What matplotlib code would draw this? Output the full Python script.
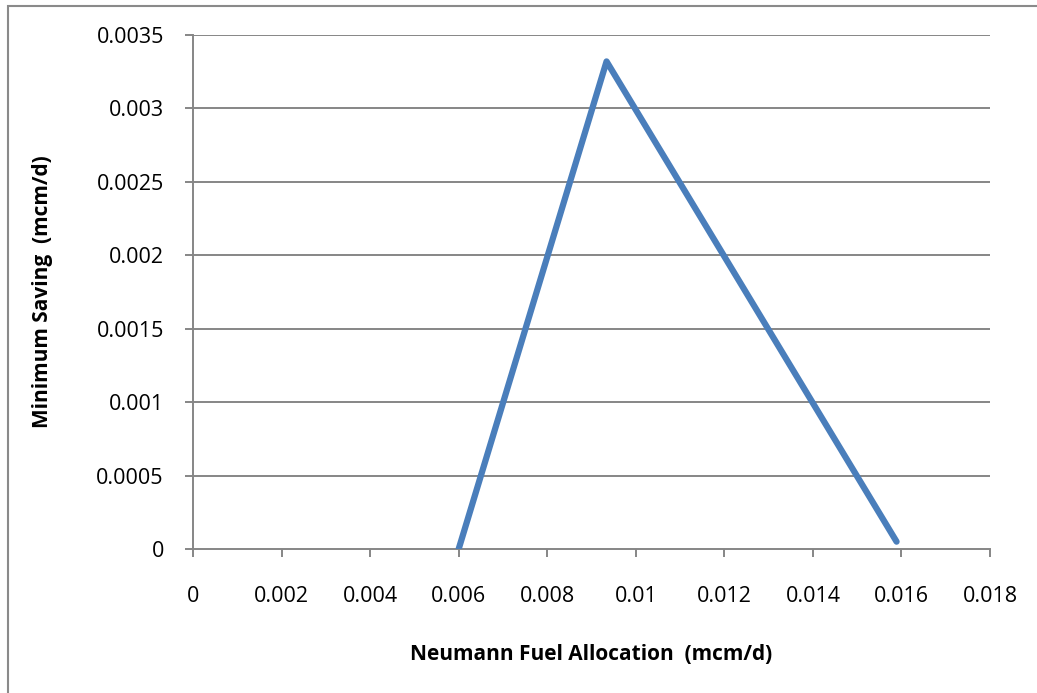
import matplotlib
matplotlib.use("Agg")
import matplotlib.pyplot as plt
from matplotlib.patches import Rectangle

x_vals = [0.006, 0.00934, 0.01589]
y_vals = [0.0, 0.00332, 0.00005]
x_ticks = [0, 0.002, 0.004, 0.006, 0.008, 0.01, 0.012, 0.014, 0.016, 0.018]
x_ticklabels = ["0", "0.002", "0.004", "0.006", "0.008", "0.01", "0.012", "0.014", "0.016", "0.018"]
y_ticks = [0, 0.0005, 0.001, 0.0015, 0.002, 0.0025, 0.003, 0.0035]
y_ticklabels = ["0", "0.0005", "0.001", "0.0015", "0.002", "0.0025", "0.003", "0.0035"]
x_label = "Neumann Fuel Allocation  (mcm/d)"
y_label = "Minimum Saving  (mcm/d)"

plt.rcParams['font.family'] = ['Open Sans', 'DejaVu Sans']
W, H = 1037, 693
fig = plt.figure(figsize=(W/100, H/100), dpi=100)
fig.patches.append(Rectangle((8/W, -0.05), 1.2, (H-6)/H + 0.05, transform=fig.transFigure,
                             fill=False, edgecolor='#8a8a8a', linewidth=1.5))
ax = fig.add_axes([193/W, 1-549/H, (990-193)/W, (549-35)/H])
grid_c = '#868686'
ax.set_xlim(0, 0.018)
ax.set_ylim(0, 0.0035)
for yt in y_ticks[1:]:
    ax.axhline(yt, color=grid_c, linewidth=1.4, zorder=1)
ax.plot(x_vals, y_vals, color='#4a7ebb', linewidth=4.5, solid_capstyle='round',
        solid_joinstyle='round', zorder=3)
for s in ['top', 'right']:
    ax.spines[s].set_visible(False)
for s in ['left', 'bottom']:
    ax.spines[s].set_color(grid_c)
    ax.spines[s].set_linewidth(1.4)
ax.set_xticks(x_ticks)
ax.set_xticklabels(x_ticklabels)
ax.set_yticks(y_ticks)
ax.set_yticklabels(y_ticklabels)
ax.tick_params(axis='both', direction='out', length=6, width=1.4, color=grid_c,
               labelsize=15.5, labelcolor='black')
ax.tick_params(axis='x', pad=21)
ax.tick_params(axis='y', pad=15)
ax.set_xlabel(x_label, fontsize=15, fontweight='bold', labelpad=26)
ax.set_ylabel(y_label, fontsize=15, fontweight='bold', labelpad=31)
fig.savefig("out.png", dpi=100)
